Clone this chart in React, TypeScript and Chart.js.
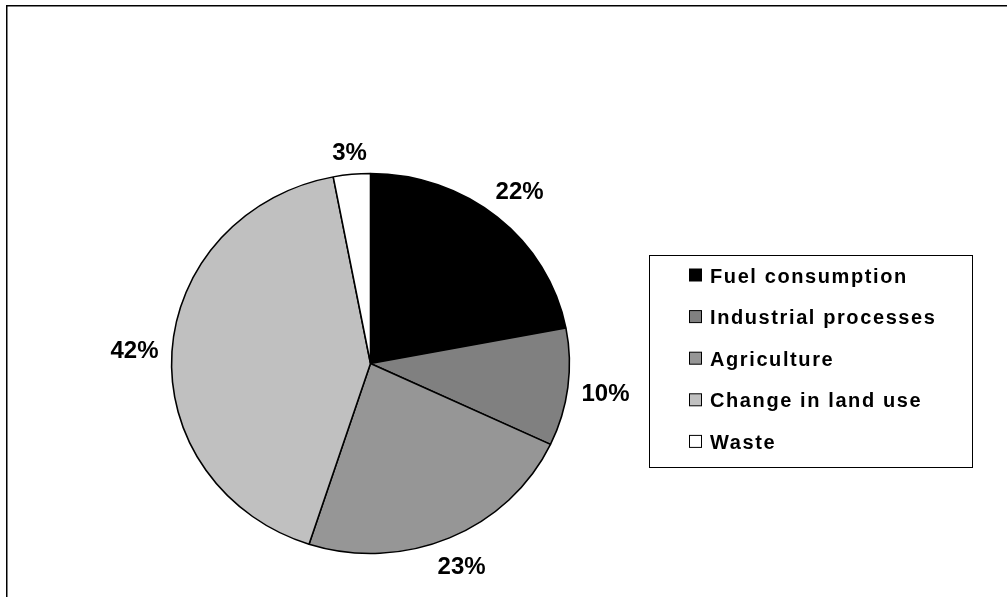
import React, { useEffect, useRef } from "react";
import { Chart, registerables } from "chart.js";

Chart.register(...registerables);

const categories = [
  "Fuel consumption",
  "Industrial processes",
  "Agriculture",
  "Change in land use",
  "Waste",
];
const shares = [22, 10, 23, 42, 3];
const percentLabels = ["22%", "10%", "23%", "42%", "3%"];
const sliceColors = ["#000000", "#808080", "#969696", "#C0C0C0", "#FFFFFF"];

const W = 1007;
const H = 597;
const FAMILY = '"Liberation Sans", Arial, sans-serif';
const X_STRETCH = 1.047;

const ellipsePlugin = {
  id: "ellipseStretch",
  beforeDatasetsDraw(chart: any) {
    const arc = chart.getDatasetMeta(0).data[0];
    if (!arc) return;
    const ctx = chart.ctx;
    ctx.save();
    ctx.translate(arc.x, arc.y);
    ctx.scale(X_STRETCH, 1);
    ctx.translate(-arc.x, -arc.y);
  },
  afterDatasetsDraw(chart: any) {
    chart.ctx.restore();
  },
};

const decorPlugin = {
  id: "decor",
  afterDraw(chart: any) {
    const ctx: CanvasRenderingContext2D = chart.ctx;
    // outer frame (only left and top edges visible)
    ctx.save();
    ctx.strokeStyle = "#000";
    ctx.lineWidth = 1.5;
    ctx.strokeRect(6.75, 5.75, W + 20, H + 20);
    ctx.restore();

    // percentage labels outside the slices
    const meta = chart.getDatasetMeta(0);
    const size = 24;
    const gap = 13;
    ctx.save();
    ctx.font = `bold ${size}px ${FAMILY}`;
    ctx.fillStyle = "#000";
    ctx.textAlign = "center";
    ctx.textBaseline = "alphabetic";
    meta.data.forEach((arc: any, i: number) => {
      const p = arc.getProps(["x", "y", "startAngle", "endAngle", "outerRadius"], true);
      const mid = (p.startAngle + p.endAngle) / 2;
      const dx = Math.cos(mid);
      const dy = Math.sin(mid);
      const ex = p.x + X_STRETCH * p.outerRadius * dx;
      const ey = p.y + p.outerRadius * dy;
      const txt = percentLabels[i];
      const w = ctx.measureText(txt).width;
      const halfH = (size * 0.716) / 2;
      const off = gap + (w / 2) * Math.abs(dx) + halfH * Math.abs(dy);
      const cx = ex + dx * off;
      const cy = ey + dy * off;
      ctx.fillText(txt, cx, cy + halfH);
    });
    ctx.restore();

    // legend box
    const bx = 649.5, by = 255.5, bw = 323, bh = 212;
    ctx.save();
    ctx.fillStyle = "#fff";
    ctx.fillRect(bx, by, bw, bh);
    ctx.strokeStyle = "#000";
    ctx.lineWidth = 1;
    ctx.strokeRect(bx, by, bw, bh);
    const lsize = 20;
    ctx.font = `bold ${lsize}px ${FAMILY}`;
    (ctx as any).letterSpacing = "1.6px";
    ctx.textAlign = "left";
    ctx.textBaseline = "alphabetic";
    const capH = lsize * 0.716;
    categories.forEach((name, i) => {
      const rowMid = 275.5 + i * 41.6;
      ctx.fillStyle = sliceColors[i];
      ctx.fillRect(689.5, rowMid - 6.5, 12, 12);
      ctx.strokeStyle = "#000";
      ctx.lineWidth = 1;
      ctx.strokeRect(689.5, rowMid - 6.5, 12, 12);
      ctx.fillStyle = "#000";
      ctx.fillText(name, 710, rowMid + capH / 2);
    });
    (ctx as any).letterSpacing = "0px";
    ctx.restore();
  },
};

export default function App() {
  const ref = useRef<HTMLCanvasElement | null>(null);

  useEffect(() => {
    if (!ref.current) return;
    const chart = new Chart(ref.current, {
      type: "pie",
      data: {
        labels: categories,
        datasets: [
          {
            data: shares,
            backgroundColor: sliceColors,
            borderColor: "#000000",
            borderWidth: 1.5,
          },
        ],
      },
      options: {
        responsive: false,
        animation: false,
        layout: {
          padding: { left: 170.5, right: 436.5, top: 172.75, bottom: 42.75 },
        },
        plugins: {
          legend: { display: false },
          tooltip: { enabled: false },
        },
      },
      plugins: [ellipsePlugin, decorPlugin],
    });
    return () => chart.destroy();
  }, []);

  return (
    <div
      style={{
        position: "fixed",
        left: 0,
        top: 0,
        width: W,
        height: H,
        background: "#fff",
        overflow: "hidden",
      }}
    >
      <canvas ref={ref} width={W} height={H} style={{ display: "block" }} />
    </div>
  );
}
